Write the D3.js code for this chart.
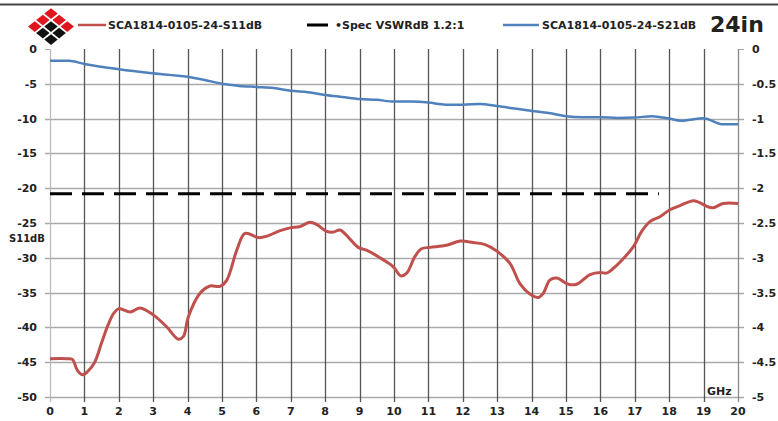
<!DOCTYPE html>
<html>
<head>
<meta charset="utf-8">
<script src="https://cdn.jsdelivr.net/npm/d3@7"></script>
<style>
  body { margin: 0; background: #fff; }
  svg { display: block; }
  text { font-family: "DejaVu Sans", sans-serif; font-weight: bold; fill: #222; }
</style>
</head>
<body>
<script>
// S11 (left axis, dB) sampled along frequency
const s11Freq = [0, 0.5, 0.65, 0.8, 0.95, 1.1, 1.3, 1.5, 1.7, 1.85, 2.0, 2.33, 2.62, 3.0, 3.39, 3.73, 3.88, 4.02, 4.36, 4.65, 4.94, 5.14, 5.43, 5.67, 6.06, 6.3, 6.69, 6.98, 7.27, 7.56, 7.75, 8.04, 8.24, 8.43, 8.7, 8.96, 9.2, 9.69, 9.98, 10.2, 10.37, 10.61, 10.8, 11.05, 11.53, 11.92, 12.3, 12.65, 12.98, 13.37, 13.66, 13.95, 14.2, 14.34, 14.53, 14.73, 15.07, 15.31, 15.7, 16.0, 16.18, 16.38, 16.67, 16.96, 17.2, 17.44, 17.73, 18.02, 18.31, 18.7, 18.85, 19.14, 19.28, 19.57, 20];
const s11Values = [-44.5, -44.5, -44.6, -46.2, -46.8, -46.3, -45, -42.2, -39.5, -38, -37.3, -37.8, -37.2, -38.2, -39.9, -41.7, -41.3, -38.5, -35.1, -34.05, -34.1, -33.2, -28.9, -26.5, -27.1, -26.9, -26.1, -25.7, -25.5, -24.9, -25.2, -26.2, -26.3, -26, -27.2, -28.5, -28.9, -30.3, -31.3, -32.6, -32.2, -29.8, -28.7, -28.5, -28.2, -27.6, -27.8, -28.1, -29, -30.8, -33.7, -35.2, -35.7, -35.1, -33.2, -32.9, -33.8, -33.8, -32.4, -32.1, -32.2, -31.5, -30.1, -28.4, -26.2, -24.8, -24.1, -23.1, -22.5, -21.8, -22, -22.7, -22.8, -22.2, -22.2];

// S21 (right axis, dB)
const s21Freq = [0, 0.55, 1, 2, 2.9, 4, 4.5, 5, 5.5, 6, 6.5, 7, 7.5, 8, 8.5, 9, 9.5, 10, 10.5, 11, 11.5, 12, 12.5, 13, 13.5, 14, 14.5, 15, 15.5, 16, 16.5, 17, 17.5, 18, 18.33, 19, 19.53, 20];
const s21Values = [-0.17, -0.17, -0.215, -0.29, -0.345, -0.4, -0.445, -0.5, -0.53, -0.545, -0.56, -0.6, -0.62, -0.66, -0.69, -0.72, -0.73, -0.755, -0.755, -0.77, -0.8, -0.8, -0.79, -0.82, -0.855, -0.89, -0.92, -0.965, -0.98, -0.98, -0.99, -0.985, -0.965, -1.0, -1.03, -0.995, -1.08, -1.08];

// spec limit line
const specFreq = [0, 17.7];
const specValue = -20.8;

const xTicks = d3.range(0, 21);
const leftTicks = d3.range(0, -51, -5);
const rightTicks = [0, -0.5, -1, -1.5, -2, -2.5, -3, -3.5, -4, -4.5, -5];

const legendItems = [
  { label: 'SCA1814-0105-24-S11dB', color: '#c0504d' },
  { label: '\u2022Spec VSWRdB 1.2:1', color: '#000' },
  { label: 'SCA1814-0105-24-S21dB', color: '#4f81bd' }
];

const width = 778;
const height = 421;
const margin = { top: 49, right: 40, bottom: 24, left: 50 };

const svg = d3.select('body').append('svg')
  .attr('width', width)
  .attr('height', height);

const x = d3.scaleLinear().domain([0, 20]).range([margin.left, width - margin.right]);
const yL = d3.scaleLinear().domain([0, -50]).range([margin.top, height - margin.bottom]);
const yR = d3.scaleLinear().domain([0, -5]).range([margin.top, height - margin.bottom]);

// top border
svg.append('line')
  .attr('x1', 0).attr('x2', width)
  .attr('y1', 4.5).attr('y2', 4.5)
  .attr('stroke', '#444')
  .attr('stroke-width', 2);

// horizontal grid (with tick stubs on both sides)
svg.append('g')
  .selectAll('line')
  .data(leftTicks)
  .join('line')
  .attr('x1', x(0) - 5)
  .attr('x2', x(20) + 6)
  .attr('y1', (d) => Math.round(yL(d)) + 0.5)
  .attr('y2', (d) => Math.round(yL(d)) + 0.5)
  .attr('stroke', (d) => d === 0 ? 'none' : '#aaa')
  .attr('stroke-width', 1.3);

// tick stubs at 0
svg.append('line')
  .attr('x1', x(0) - 5).attr('x2', x(0))
  .attr('y1', yL(0) + 0.5).attr('y2', yL(0) + 0.5)
  .attr('stroke', '#aaa');
svg.append('line')
  .attr('x1', x(20)).attr('x2', x(20) + 6)
  .attr('y1', yL(0) + 0.5).attr('y2', yL(0) + 0.5)
  .attr('stroke', '#aaa');

// vertical grid
svg.append('g')
  .selectAll('line')
  .data(xTicks)
  .join('line')
  .attr('x1', (d) => Math.round(x(d)) + 0.5)
  .attr('x2', (d) => Math.round(x(d)) + 0.5)
  .attr('y1', yL(0))
  .attr('y2', yL(-50) + 5)
  .attr('stroke', (d) => d === 0 ? '#bbb' : (d === 20 ? '#888' : '#555'))
  .attr('stroke-width', 1.3);

// left axis labels
svg.append('g')
  .selectAll('text')
  .data(leftTicks)
  .join('text')
  .attr('x', 37)
  .attr('y', (d) => yL(d) + 4)
  .attr('text-anchor', 'end')
  .attr('font-size', 11)
  .text((d) => String(d));

// right axis labels
svg.append('g')
  .selectAll('text')
  .data(rightTicks)
  .join('text')
  .attr('x', 752)
  .attr('y', (d) => yR(d) + 4)
  .attr('font-size', 11)
  .text((d) => String(d));

// x axis labels
svg.append('g')
  .selectAll('text')
  .data(xTicks)
  .join('text')
  .attr('x', (d) => x(d))
  .attr('y', 415)
  .attr('text-anchor', 'middle')
  .attr('font-size', 11)
  .text((d) => d);

svg.append('text')
  .attr('x', 9).attr('y', 242)
  .attr('font-size', 10)
  .text('S11dB');

svg.append('text')
  .attr('x', 707).attr('y', 395)
  .attr('font-size', 11)
  .text('GHz');

// spec line
svg.append('line')
  .attr('x1', x(specFreq[0])).attr('x2', x(specFreq[1]))
  .attr('y1', yL(specValue)).attr('y2', yL(specValue))
  .attr('stroke', '#000')
  .attr('stroke-width', 3)
  .attr('stroke-dasharray', '22,10');

// S21 line
const lineR = d3.line()
  .x((d) => x(d[0]))
  .y((d) => yR(d[1]))
  .curve(d3.curveMonotoneX);

svg.append('path')
  .datum(d3.zip(s21Freq, s21Values))
  .attr('d', lineR)
  .attr('fill', 'none')
  .attr('stroke', '#4f81bd')
  .attr('stroke-width', 2.5);

// S11 line
const lineL = d3.line()
  .x((d) => x(d[0]))
  .y((d) => yL(d[1]))
  .curve(d3.curveCatmullRom.alpha(0.5));

svg.append('path')
  .datum(d3.zip(s11Freq, s11Values))
  .attr('d', lineL)
  .attr('fill', 'none')
  .attr('stroke', '#c0504d')
  .attr('stroke-width', 3)
  .attr('stroke-linejoin', 'round');

// legend
const legendX = [78, 307, 503];
const legend = svg.append('g');
legendItems.forEach((item, i) => {
  const g = legend.append('g').attr('transform', `translate(${legendX[i]},25)`);
  g.append('line')
    .attr('x1', 0).attr('x2', i === 1 ? 21 : (i === 0 ? 28 : 36))
    .attr('stroke', item.color)
    .attr('stroke-width', i === 1 ? 3 : 2.5);
  g.append('text')
    .attr('x', i === 1 ? 28 : (i === 0 ? 30 : 39))
    .attr('y', 4)
    .attr('font-size', 11)
    .text(item.label);
});

svg.append('text')
  .attr('x', 710).attr('y', 32)
  .attr('font-size', 22)
  .attr('font-family', 'Open Sans, sans-serif')
  .text('24in');

// logo: 3x3 grid of diamonds rotated 45 degrees, slightly flattened
const logoCells = [];
for (let i = 0; i < 3; i++) {
  for (let j = 0; j < 3; j++) {
    const black = i + j >= 3 || (i === 1 && j === 1);
    logoCells.push({ i, j, black });
  }
}
const cell = 11.5;
svg.append('g')
  .attr('transform', 'translate(51,7) scale(1,0.8) rotate(45)')
  .selectAll('rect')
  .data(logoCells)
  .join('rect')
  .attr('x', (d) => d.j * cell + 1)
  .attr('y', (d) => d.i * cell + 1)
  .attr('width', cell - 2)
  .attr('height', cell - 2)
  .attr('fill', (d) => d.black ? '#111' : '#e0161e');
</script>
</body>
</html>
